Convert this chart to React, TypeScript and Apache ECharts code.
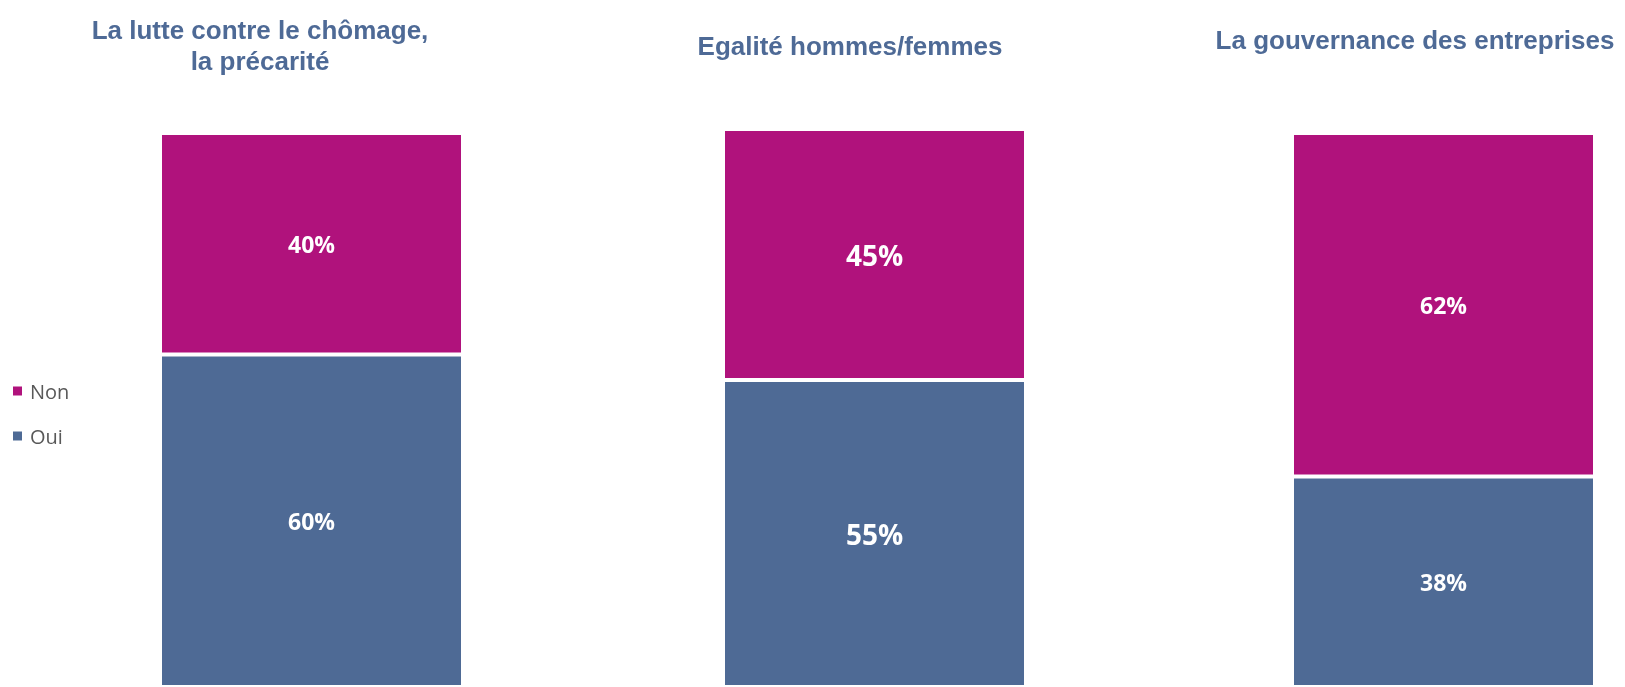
import React, { useEffect, useRef } from "react";
import * as echarts from "echarts";

const panelTitles = ["La lutte contre le chômage,\nla précarité", "Egalité hommes/femmes", "La gouvernance des entreprises"];
const seriesNames = ["Oui", "Non"];
const ouiValues = [60, 55, 38];
const nonValues = [40, 45, 62];

const COLOR_OUI = "#4E6A95";
const COLOR_NON = "#B0127C";
const TITLE_COLOR = "#4E6A96";

// layout per panel (pixels)
const panelLayout = [
  { left: 160, top: 133, bottom: -5, labelSize: 23, titleX: 260, titleY: [29.5, 60.5] },
  { left: 723, top: 129, bottom: -9, labelSize: 28, titleX: 850, titleY: [46] },
  { left: 1292, top: 133, bottom: -6.5, labelSize: 23, titleX: 1415, titleY: [40] },
];

export default function App() {
  const ref = useRef<HTMLDivElement>(null);
  useEffect(() => {
    if (!ref.current) return;
    const chart = echarts.init(ref.current, undefined, { renderer: "svg" });
    const grids = panelLayout.map((p) => ({ left: p.left, top: p.top, bottom: p.bottom, width: 303 }));
    const xAxes = panelLayout.map((_, i) => ({
      type: "category" as const,
      gridIndex: i,
      data: [""],
      show: false,
    }));
    const yAxes = panelLayout.map((_, i) => ({
      type: "value" as const,
      gridIndex: i,
      min: 0,
      max: 100,
      show: false,
    }));
    const series: any[] = [];
    panelLayout.forEach((p, i) => {
      const vals = [ouiValues[i], nonValues[i]];
      const colors = [COLOR_OUI, COLOR_NON];
      seriesNames.forEach((name, k) => {
        series.push({
          type: "bar",
          name,
          xAxisIndex: i,
          yAxisIndex: i,
          stack: "s" + i,
          barWidth: "100%",
          data: [vals[k]],
          itemStyle: { color: colors[k], borderColor: "#ffffff", borderWidth: 2 },
          label: {
            show: true,
            position: "inside",
            formatter: "{c}%",
            color: "#ffffff",
            fontWeight: "bold",
            fontFamily: "Open Sans",
            fontSize: p.labelSize,
          },
        });
      });
    });
    const graphics: any[] = [];
    panelLayout.forEach((p, i) => {
      const lines = panelTitles[i].split("\n");
      lines.forEach((line, j) => {
        graphics.push({
          type: "text",
          x: p.titleX,
          y: p.titleY[j],
          style: {
            text: line,
            fill: TITLE_COLOR,
            font: "bold 26px 'Liberation Sans', Arial, sans-serif",
            textAlign: "center",
            textVerticalAlign: "middle",
          },
        });
      });
    });
    chart.setOption({
      animation: false,
      grid: grids,
      xAxis: xAxes,
      yAxis: yAxes,
      series,
      graphic: graphics,
      legend: {
        data: ["Non", "Oui"],
        orient: "vertical",
        left: 13,
        top: 381,
        padding: 0,
        icon: "rect",
        itemWidth: 9,
        itemHeight: 9,
        itemGap: 25,
        itemStyle: { borderWidth: 0 },
        textStyle: { fontSize: 20, fontFamily: "Open Sans", color: "#595959", lineHeight: 20, padding: [0, 0, 0, 3] },
      },
    });
    return () => chart.dispose();
  }, []);
  return (
    <div
      ref={ref}
      style={{ position: "fixed", left: 0, top: 0, width: 1625, height: 687 }}
    />
  );
}
